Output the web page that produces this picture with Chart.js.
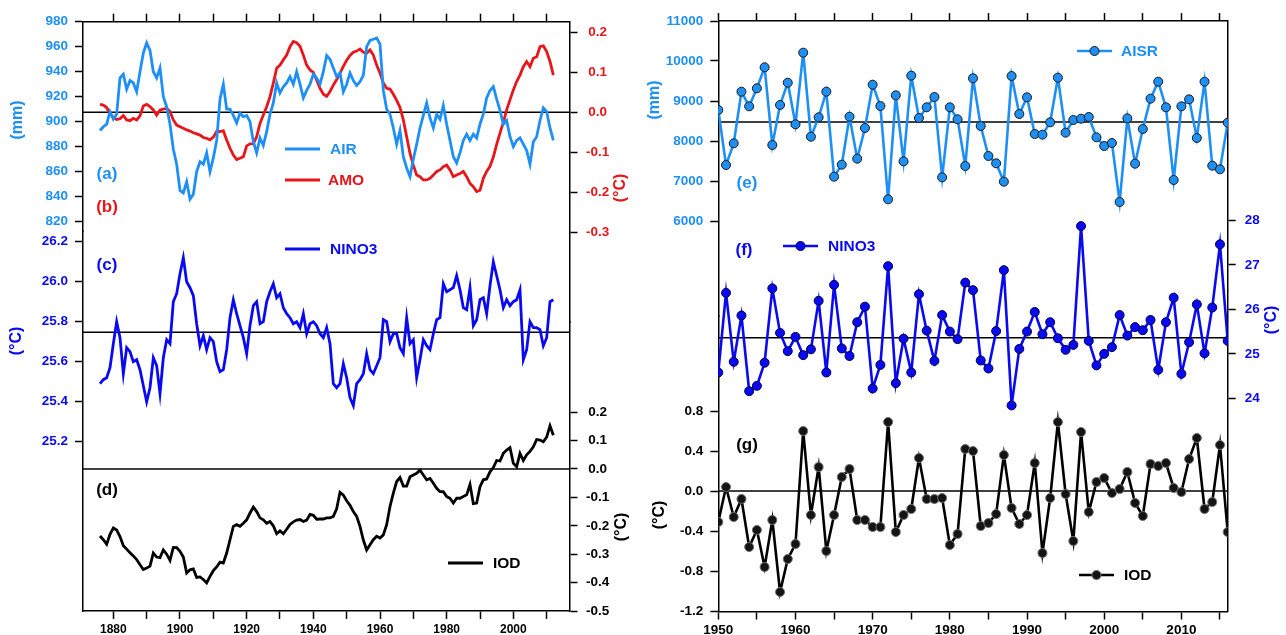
<!DOCTYPE html>
<html>
<head>
<meta charset="utf-8">
<script src="https://cdn.jsdelivr.net/npm/chart.js@4.4.1/dist/chart.umd.min.js"></script>
<style>
  html, body { margin: 0; padding: 0; background: #fff; overflow: hidden; }
  #wrap { position: relative; width: 1286px; height: 635px; }
  #wrap canvas { position: absolute; top: 0; }
</style>
</head>
<body>
<div id="wrap">
  <canvas id="longChart" width="643" height="635" style="left:0"></canvas>
  <canvas id="shortChart" width="643" height="635" style="left:643px"></canvas>
</div>
<script>
// Long records (annual, 1876-2012): all-India rainfall, AMO, NINO3 SST, IOD
const LONG_START = 1876;
const airMm = [
  893, 896, 898, 908,
  902, 906, 935, 938, 926, 933, 931, 924, 940, 955,
  963, 957, 940, 935, 943, 920, 912, 898, 878, 866,
  845, 843, 852, 838, 842, 860, 868, 866, 875, 860,
  871, 885, 918, 930, 910, 910, 905, 899, 907, 904,
  905, 900, 884, 875, 887, 881, 892, 906, 915, 931,
  923, 928, 931, 936, 930, 940, 930, 919, 925, 930,
  938, 935, 930, 940, 953, 950, 943, 936, 939, 924,
  930, 939, 933, 929, 932, 937, 960, 965, 966, 967,
  962, 925, 910, 906, 895, 882, 893, 872, 863, 856,
  870, 882, 895, 905, 915, 903, 895, 906, 902, 913,
  898, 885, 872, 867, 875, 885, 890, 885, 890, 887,
  898, 906, 919, 925, 928, 918, 909, 898, 901, 888,
  880, 885, 887, 882, 877, 866, 884, 888, 901, 911,
  908, 895, 885
];
const amoC = [
  0.020, 0.018, 0.012, -0.004,
  -0.013, -0.018, -0.016, -0.008, -0.019, -0.021, -0.015, -0.019, -0.009, 0.016,
  0.020, 0.014, 0.006, -0.007, 0.006, 0.008, 0.010, 0.002, -0.019, -0.032,
  -0.036, -0.040, -0.044, -0.047, -0.051, -0.054, -0.057, -0.063, -0.065, -0.069,
  -0.062, -0.048, -0.048, -0.046, -0.069, -0.090, -0.107, -0.118, -0.115, -0.111,
  -0.084, -0.079, -0.079, -0.061, -0.028, -0.007, 0.014, 0.039, 0.073, 0.110,
  0.118, 0.131, 0.143, 0.164, 0.177, 0.174, 0.165, 0.143, 0.118, 0.106,
  0.100, 0.080, 0.060, 0.045, 0.040, 0.052, 0.068, 0.082, 0.098, 0.115,
  0.130, 0.142, 0.150, 0.153, 0.158, 0.150, 0.148, 0.156, 0.143, 0.118,
  0.098, 0.073, 0.060, 0.058, 0.045, 0.030, 0.012, -0.019, -0.061, -0.103,
  -0.132, -0.157, -0.161, -0.169, -0.169, -0.165, -0.157, -0.148, -0.144, -0.136,
  -0.132, -0.144, -0.161, -0.157, -0.153, -0.148, -0.161, -0.178, -0.186, -0.198,
  -0.195, -0.165, -0.148, -0.135, -0.112, -0.080, -0.052, -0.025, 0.006, 0.031,
  0.056, 0.077, 0.093, 0.114, 0.127, 0.114, 0.135, 0.139, 0.164, 0.166,
  0.152, 0.127, 0.093
];
const nino3Long = [
  25.49, 25.51, 25.52, 25.57,
  25.69, 25.80, 25.72, 25.54, 25.67, 25.65, 25.60, 25.61, 25.56, 25.48,
  25.40, 25.47, 25.62, 25.58, 25.44, 25.62, 25.71, 25.69, 25.90, 25.94,
  26.04, 26.12, 26.00, 25.97, 25.93, 25.79, 25.68, 25.73, 25.66, 25.72,
  25.70, 25.60, 25.55, 25.56, 25.66, 25.82, 25.91, 25.84, 25.78, 25.72,
  25.64, 25.78, 25.88, 25.90, 25.79, 25.80, 25.90, 25.95, 25.99, 25.92,
  25.94, 25.87, 25.84, 25.82, 25.79, 25.80, 25.77, 25.84, 25.74, 25.79,
  25.80, 25.78, 25.74, 25.72, 25.77, 25.69, 25.49, 25.47, 25.49, 25.59,
  25.52, 25.42, 25.38, 25.49, 25.51, 25.54, 25.64, 25.56, 25.54, 25.58,
  25.62, 25.81, 25.80, 25.70, 25.74, 25.74, 25.67, 25.64, 25.82, 25.69,
  25.71, 25.52, 25.61, 25.71, 25.68, 25.66, 25.74, 25.81, 25.82, 25.99,
  25.95, 25.96, 25.97, 26.03, 25.96, 25.87, 25.86, 25.97, 25.78, 25.81,
  25.91, 25.92, 25.84, 25.98, 26.10, 26.03, 25.96, 25.87, 25.91, 25.88,
  25.90, 25.91, 25.96, 25.61, 25.66, 25.80, 25.77, 25.77, 25.76, 25.68,
  25.72, 25.90, 25.91
];
const iodLong = [
  -0.236, -0.249, -0.265, -0.230,
  -0.208, -0.215, -0.238, -0.270, -0.282, -0.295, -0.306, -0.319, -0.337, -0.354,
  -0.349, -0.342, -0.296, -0.310, -0.312, -0.285, -0.300, -0.322, -0.276, -0.277,
  -0.290, -0.310, -0.366, -0.355, -0.352, -0.382, -0.380, -0.389, -0.401, -0.378,
  -0.358, -0.345, -0.328, -0.331, -0.296, -0.249, -0.202, -0.196, -0.202, -0.191,
  -0.179, -0.155, -0.134, -0.150, -0.172, -0.179, -0.191, -0.185, -0.200, -0.228,
  -0.218, -0.228, -0.212, -0.195, -0.186, -0.180, -0.178, -0.185, -0.180, -0.160,
  -0.163, -0.177, -0.176, -0.176, -0.172, -0.172, -0.167, -0.140, -0.082, -0.092,
  -0.112, -0.128, -0.150, -0.167, -0.202, -0.250, -0.285, -0.267, -0.249, -0.237,
  -0.243, -0.232, -0.196, -0.132, -0.085, -0.044, -0.030, -0.060, -0.060, -0.027,
  -0.021, -0.015, -0.004, -0.021, -0.038, -0.033, -0.050, -0.068, -0.080, -0.080,
  -0.097, -0.103, -0.120, -0.103, -0.103, -0.097, -0.091, -0.055, -0.122, -0.120,
  -0.062, -0.038, -0.035, -0.010, 0.005, 0.030, 0.028, 0.055, 0.067, 0.075,
  0.020, 0.008, 0.055, 0.030, 0.050, 0.062, 0.078, 0.104, 0.102, 0.096,
  0.112, 0.152, 0.119
];
const amoZero = 0;
const nino3LongMean = 25.747;
const iodLongZero = 0;

// Short records (annual, 1950-2016): AISR, NINO3 SST, IOD
const SHORT_START = 1950;
const aisrMm = [
  8775, 7400, 7942, 9233, 8867, 9317, 9842, 7900, 8900, 9458,
  8417, 10208, 8108, 8592, 9233, 7108, 7408, 8608, 7558, 8325,
  9408, 8875, 6542, 9142, 7492, 9633, 8575, 8842, 9100, 7092,
  8842, 8542, 7375, 9567, 8375, 7625, 7442, 6983, 9625, 8675,
  9092, 8175, 8158, 8467, 9583, 8208, 8525, 8558, 8600, 8092,
  7875, 7950, 6475, 8567, 7433, 8300, 9058, 9483, 8842, 7025,
  8867, 9042, 8075, 9483, 7383, 7292, 8458
];
const nino3Short = [
  24.58, 26.37, 24.82, 25.86, 24.16, 24.28, 24.80, 26.47, 25.47, 25.06,
  25.38, 24.97, 25.10, 26.19, 24.58, 26.55, 25.12, 24.95, 25.71, 26.06,
  24.22, 24.75, 26.97, 24.34, 25.34, 24.58, 26.34, 25.52, 24.84, 25.87,
  25.50, 25.33, 26.60, 26.43, 24.85, 24.67, 25.51, 26.88, 23.84, 25.11,
  25.50, 25.94, 25.44, 25.71, 25.35, 25.09, 25.20, 27.87, 25.29, 24.74,
  25.00, 25.15, 25.87, 25.41, 25.60, 25.53, 25.76, 24.64, 25.71, 26.26,
  24.55, 25.26, 26.11, 25.01, 26.04, 27.46, 25.29
];
const iodShort = [
  -0.31, 0.04, -0.26, -0.08, -0.56, -0.39, -0.76, -0.29, -1.01, -0.68,
  -0.53, 0.60, -0.24, 0.24, -0.60, -0.24, 0.14, 0.22, -0.29, -0.29,
  -0.36, -0.36, 0.69, -0.41, -0.24, -0.18, 0.33, -0.08, -0.08, -0.07,
  -0.54, -0.43, 0.42, 0.40, -0.35, -0.32, -0.23, 0.36, -0.17, -0.33,
  -0.24, 0.28, -0.62, -0.07, 0.69, -0.03, -0.50, 0.59, -0.21, 0.09,
  0.13, -0.02, 0.02, 0.19, -0.12, -0.25, 0.27, 0.25, 0.28, 0.03,
  -0.01, 0.32, 0.53, -0.18, -0.11, 0.46, -0.41
];
const aisrMean = 8475;
const nino3ShortMean = 25.36;
const iodShortZero = 0;

// tick values
const longYearTicks = [1880, 1890, 1900, 1910, 1920, 1930, 1940, 1950, 1960, 1970, 1980, 1990, 2000, 2010];
const shortYearTicks = [1950, 1955, 1960, 1965, 1970, 1975, 1980, 1985, 1990, 1995, 2000, 2005, 2010, 2015];
const airTicks = [820, 840, 860, 880, 900, 920, 940, 960, 980];
const amoTicks = [-0.3, -0.2, -0.1, 0.0, 0.1, 0.2];
const nino3LongTicks = [25.2, 25.4, 25.6, 25.8, 26.0, 26.2];
const iodLongTicks = [-0.5, -0.4, -0.3, -0.2, -0.1, 0.0, 0.1, 0.2];
const aisrTicks = [6000, 7000, 8000, 9000, 10000, 11000];
const iodShortTicks = [-1.2, -0.8, -0.4, 0.0, 0.4, 0.8];
const nino3ShortTicks = [24, 25, 26, 27, 28];

const FONT = "'Liberation Sans', Arial, Helvetica, sans-serif";
const LIGHT_BLUE = '#1e8ff5';
const RED = '#e8161b';
const BLUE = '#0a0af0';
const BLACK = '#000000';

function toPoints(start, vals) {
  return vals.map((v, i) => ({ x: start + i, y: v }));
}

function refLine(x0, x1, v, axis) {
  return {
    data: [{ x: x0, y: v }, { x: x1, y: v }],
    yAxisID: axis, borderColor: '#000', borderWidth: 1.6,
    pointRadius: 0, order: 10
  };
}

function series(vals, start, axis, color, extra) {
  return Object.assign({
    data: toPoints(start, vals), yAxisID: axis,
    borderColor: color, borderWidth: 2.8, tension: 0,
    pointRadius: 0, order: 1
  }, extra || {});
}

function xAxis(pos, min, max, tickVals, showEvery, fontSize, h) {
  return {
    type: 'linear', position: pos, min: min, max: max,
    border: { color: '#000', width: 1.5 },
    grid: { drawOnChartArea: false, drawTicks: true, tickLength: 8, tickWidth: 1.5, tickColor: '#000' },
    ticks: {
      display: pos === 'bottom', autoSkip: false, maxRotation: 0, padding: 3,
      color: '#000', font: { family: FONT, size: fontSize, weight: 'bold' },
      callback: v => (v % showEvery === 0 ? String(v) : '')
    },
    afterBuildTicks: s => { s.ticks = tickVals.map(v => ({ value: v })); },
    afterFit: s => { s.height = h; }
  };
}

// left-hand stacks are laid out last-defined-first, so the lower axis is listed first
function yAxis(o) {
  return {
    type: 'linear', position: o.pos, min: o.min, max: o.max,
    stack: o.stack, stackWeight: o.weight || 1,
    border: { color: '#000', width: 1.5 },
    grid: { drawOnChartArea: false, drawTicks: true, tickLength: 8, tickWidth: 1.5, tickColor: '#000' },
    ticks: {
      autoSkip: false, padding: o.padding || 7, color: o.color,
      crossAlign: o.pos === 'right' ? 'center' : 'near',
      font: { family: FONT, size: 13.5, weight: 'bold' },
      callback: v => v.toFixed(o.digits)
    },
    afterBuildTicks: s => { s.ticks = o.ticks.map(v => ({ value: v })); },
    afterFit: s => { s.width = o.width; }
  };
}

// axis titles, panel letters and in-plot legends
function overlay(items) {
  return {
    id: 'overlay',
    afterDraw(chart) {
      const ctx = chart.ctx;
      ctx.save();
      items.forEach(it => {
        if (it.kind === 'text') {
          ctx.save();
          ctx.translate(it.x, it.y);
          if (it.rot) ctx.rotate(it.rot * Math.PI / 180);
          ctx.font = 'bold ' + it.size + 'px ' + FONT;
          ctx.fillStyle = it.color;
          ctx.textAlign = it.align || 'center';
          ctx.textBaseline = 'middle';
          ctx.fillText(it.text, 0, 0);
          ctx.restore();
        } else if (it.kind === 'legend') {
          ctx.strokeStyle = it.color;
          ctx.lineWidth = it.lw || 2.8;
          ctx.beginPath();
          ctx.moveTo(it.x, it.y);
          ctx.lineTo(it.x + 35, it.y);
          ctx.stroke();
          if (it.marker) {
            ctx.beginPath();
            ctx.arc(it.x + 17.5, it.y, 4.5, 0, Math.PI * 2);
            ctx.fillStyle = it.marker;
            ctx.fill();
            ctx.lineWidth = 1;
            ctx.strokeStyle = it.edge;
            ctx.stroke();
          }
          ctx.font = 'bold 15.5px ' + FONT;
          ctx.fillStyle = it.color;
          ctx.textAlign = 'left';
          ctx.textBaseline = 'middle';
          ctx.fillText(it.label, it.x + it.gap, it.y + 1);
        }
      });
      ctx.restore();
    }
  };
}

const LONG_MIN = 1870.9, LONG_MAX = 2016.85;

new Chart(document.getElementById('longChart'), {
  type: 'line',
  data: {
    datasets: [
      series(airMm, LONG_START, 'yAir', LIGHT_BLUE),
      series(amoC, LONG_START, 'yAmo', RED),
      series(nino3Long, LONG_START, 'yNino', BLUE),
      series(iodLong, LONG_START, 'yIod', BLACK),
      refLine(LONG_MIN, LONG_MAX, amoZero, 'yAmo'),
      refLine(LONG_MIN, LONG_MAX, nino3LongMean, 'yNino'),
      refLine(LONG_MIN, LONG_MAX, iodLongZero, 'yIod')
    ]
  },
  options: {
    responsive: false, animation: false, devicePixelRatio: 1,
    layout: { padding: 0 },
    plugins: { legend: { display: false }, tooltip: { enabled: false } },
    scales: {
      x: xAxis('bottom', LONG_MIN, LONG_MAX, longYearTicks, 20, 12, 24),
      xTop: xAxis('top', LONG_MIN, LONG_MAX, longYearTicks, 20, 12, 21.7),
      yNino: yAxis({ pos: 'left', stack: 'L', weight: 380, min: 24.3535, max: 26.2535, ticks: nino3LongTicks, digits: 1, color: BLUE, width: 83 }),
      yAir: yAxis({ pos: 'left', stack: 'L', weight: 209.3, min: 812.56, max: 980, ticks: airTicks, digits: 0, color: LIGHT_BLUE, width: 83 }),
      yAmo: yAxis({ pos: 'right', stack: 'R', weight: 300.3, min: -0.5243, max: 0.2265, ticks: amoTicks, digits: 1, color: RED, width: 73.5, padding: 8.5 }),
      yIod: yAxis({ pos: 'right', stack: 'R', weight: 289, min: -0.5, max: 0.5176, ticks: iodLongTicks, digits: 1, color: BLACK, width: 73.5, padding: 8.5 })
    }
  },
  plugins: [overlay([
    { kind: 'text', text: '(mm)', x: 18, y: 120, rot: -90, size: 16, color: LIGHT_BLUE },
    { kind: 'text', text: '(°C)', x: 17, y: 341, rot: -90, size: 16, color: BLUE },
    { kind: 'text', text: '(°C)', x: 621, y: 188, rot: -90, size: 16, color: RED },
    { kind: 'text', text: '(°C)', x: 622, y: 527, rot: -90, size: 16, color: BLACK },
    { kind: 'text', text: '(a)', x: 107, y: 174, size: 17, color: LIGHT_BLUE },
    { kind: 'text', text: '(b)', x: 107, y: 207, size: 17, color: RED },
    { kind: 'text', text: '(c)', x: 107, y: 265, size: 17, color: BLUE },
    { kind: 'text', text: '(d)', x: 107, y: 490, size: 17, color: BLACK },
    { kind: 'legend', label: 'AIR', x: 285, y: 149, gap: 45, color: LIGHT_BLUE },
    { kind: 'legend', label: 'AMO', x: 285, y: 180, gap: 43, color: RED },
    { kind: 'legend', label: 'NINO3', x: 285, y: 249, gap: 45, color: BLUE },
    { kind: 'legend', label: 'IOD', x: 448, y: 563, gap: 45, color: BLACK }
  ])]
});

const markerStyle = (fill, edge) => ({
  borderWidth: 2.6, pointRadius: 4.5, pointBorderWidth: 1,
  pointBackgroundColor: fill, pointBorderColor: edge
});

new Chart(document.getElementById('shortChart'), {
  type: 'line',
  data: {
    datasets: [
      series(aisrMm, SHORT_START, 'yAisr', LIGHT_BLUE, markerStyle(LIGHT_BLUE, '#1a1a1a')),
      series(nino3Short, SHORT_START, 'yNino2', BLUE, markerStyle(BLUE, '#00004a')),
      series(iodShort, SHORT_START, 'yIod2', BLACK, markerStyle('#141414', '#6e6e6e')),
      refLine(1950, 2016, aisrMean, 'yAisr'),
      refLine(1950, 2016, nino3ShortMean, 'yNino2'),
      refLine(1950, 2016, iodShortZero, 'yIod2')
    ]
  },
  options: {
    responsive: false, animation: false, devicePixelRatio: 1,
    layout: { padding: 0 },
    plugins: { legend: { display: false }, tooltip: { enabled: false } },
    scales: {
      x: xAxis('bottom', 1950, 2016, shortYearTicks, 10, 13.5, 23.5),
      xTop: xAxis('top', 1950, 2016, shortYearTicks, 10, 13.5, 21),
      yIod2: yAxis({ pos: 'left', stack: 'L', weight: 295.5, min: -1.205, max: 1.75, ticks: iodShortTicks, digits: 1, color: BLACK, width: 75.3 }),
      yAisr: yAxis({ pos: 'left', stack: 'L', weight: 295, min: 3625, max: 11000, ticks: aisrTicks, digits: 0, color: LIGHT_BLUE, width: 75.3 }),
      yNino2: yAxis({ pos: 'right', min: 19.209, max: 32.479, ticks: nino3ShortTicks, digits: 0, color: BLUE, width: 58.3, padding: 9 })
    }
  },
  plugins: [overlay([
    { kind: 'text', text: '(mm)', x: 12, y: 100, rot: -90, size: 16, color: LIGHT_BLUE },
    { kind: 'text', text: '(°C)', x: 17, y: 515, rot: -90, size: 16, color: BLACK },
    { kind: 'text', text: '(°C)', x: 629, y: 320, rot: -90, size: 16, color: BLUE },
    { kind: 'text', text: '(e)', x: 104, y: 183, size: 17, color: LIGHT_BLUE },
    { kind: 'text', text: '(f)', x: 101, y: 250, size: 17, color: BLUE },
    { kind: 'text', text: '(g)', x: 104, y: 445, size: 17, color: BLACK },
    { kind: 'legend', label: 'AISR', x: 434, y: 51, gap: 44, color: LIGHT_BLUE, marker: LIGHT_BLUE, edge: '#1a1a1a', lw: 2.6 },
    { kind: 'legend', label: 'NINO3', x: 140, y: 246, gap: 45, color: BLUE, marker: BLUE, edge: '#00004a', lw: 2.6 },
    { kind: 'legend', label: 'IOD', x: 436, y: 575, gap: 45, color: BLACK, marker: '#141414', edge: '#6e6e6e', lw: 2.6 }
  ])]
});
</script>
</body>
</html>
